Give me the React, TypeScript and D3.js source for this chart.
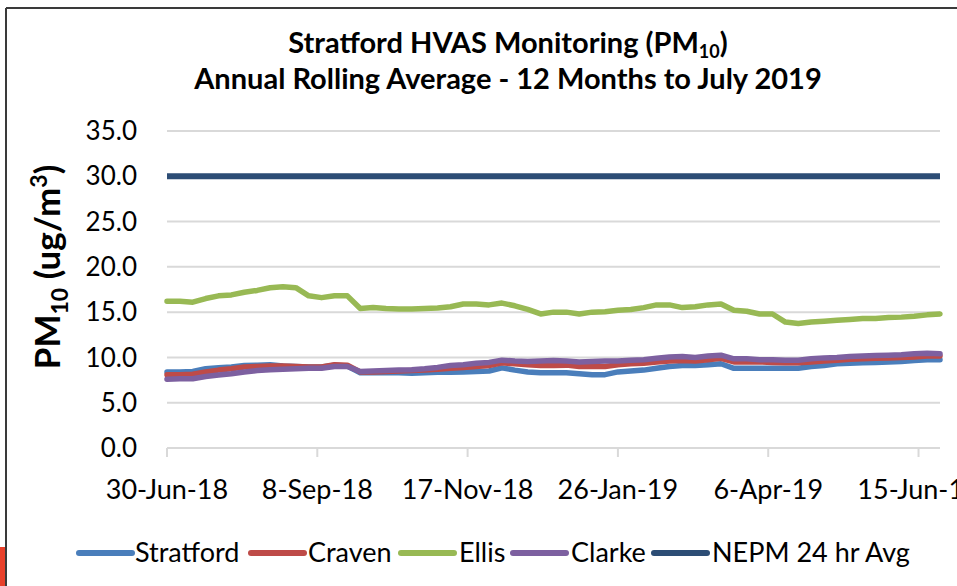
import React from "react";
import * as d3 from "d3";

const seriesNames = ["Stratford", "Craven", "Ellis", "Clarke", "NEPM 24 hr Avg"];
const seriesColors = ["#4A7EBB", "#BE4B48", "#98B954", "#7D60A0", "#2C4D75"];

const startDate = "2018-06-30";
const sampleIntervalDays = 6;

const stratford = [
  8.4, 8.4, 8.45, 8.75, 8.85, 8.95, 9.1, 9.15, 9.2, 9.05, 9.0, 8.95, 8.95, 9.15, 9.05,
  8.3, 8.3, 8.3, 8.3, 8.25, 8.3, 8.35, 8.35, 8.4, 8.45, 8.5, 8.85, 8.6, 8.4, 8.3,
  8.3, 8.3, 8.2, 8.1, 8.1, 8.4, 8.5, 8.6, 8.8, 9.0, 9.1, 9.1, 9.2, 9.3, 8.8,
  8.8, 8.8, 8.8, 8.8, 8.8, 9.0, 9.1, 9.3, 9.35, 9.4, 9.45, 9.5, 9.55, 9.65, 9.75, 9.75,
];
const craven = [
  8.1, 8.1, 8.15, 8.4, 8.6, 8.75, 8.95, 9.0, 9.05, 9.05, 9.0, 8.95, 8.95, 9.2, 9.15,
  8.4, 8.4, 8.45, 8.5, 8.55, 8.6, 8.7, 8.8, 8.9, 9.0, 9.1, 9.4, 9.3, 9.2, 9.1,
  9.1, 9.15, 9.0, 9.0, 9.0, 9.2, 9.3, 9.35, 9.5, 9.6, 9.65, 9.6, 9.75, 9.9, 9.5,
  9.5, 9.5, 9.45, 9.4, 9.4, 9.5, 9.6, 9.7, 9.8, 9.85, 9.9, 9.95, 10.0, 10.05, 10.15, 10.15,
];
const ellis = [
  16.2, 16.2, 16.1, 16.5, 16.8, 16.9, 17.2, 17.4, 17.7, 17.8, 17.7, 16.8, 16.6, 16.8, 16.8,
  15.4, 15.5, 15.4, 15.35, 15.35, 15.4, 15.45, 15.6, 15.9, 15.9, 15.8, 16.0, 15.7, 15.3, 14.8,
  15.0, 15.0, 14.8, 15.0, 15.05, 15.2, 15.3, 15.5, 15.8, 15.8, 15.5, 15.6, 15.8, 15.9, 15.2,
  15.1, 14.8, 14.8, 13.9, 13.75, 13.9, 14.0, 14.1, 14.2, 14.3, 14.3, 14.4, 14.45, 14.55, 14.7, 14.8,
];
const clarke = [
  7.6, 7.65, 7.65, 7.9, 8.05, 8.2, 8.4, 8.55, 8.65, 8.7, 8.75, 8.8, 8.8, 9.0, 9.0,
  8.45, 8.5, 8.55, 8.6, 8.65, 8.75, 8.9, 9.1, 9.2, 9.35, 9.45, 9.7, 9.6, 9.55, 9.6,
  9.65, 9.6, 9.5, 9.55, 9.6, 9.6, 9.7, 9.75, 9.9, 10.05, 10.1, 10.0, 10.15, 10.25, 9.85,
  9.85, 9.75, 9.75, 9.7, 9.7, 9.85, 9.95, 10.0, 10.1, 10.15, 10.2, 10.25, 10.3, 10.4, 10.45, 10.4,
];
const nepm = [30, 30];

const yTicks = [0, 5, 10, 15, 20, 25, 30, 35];
const xTickDates = ["2018-06-30", "2018-09-08", "2018-11-17", "2019-01-26", "2019-04-06", "2019-06-15"];
const xTickLabels = ["30-Jun-18", "8-Sep-18", "17-Nov-18", "26-Jan-19", "6-Apr-19", "15-Jun-19"];
const xDomainEnd = "2019-06-25";

const FONT = "Lato, 'Open Sans', sans-serif";

const parse = d3.timeParse("%Y-%m-%d");

export default function App() {
  const W = 957;
  const H = 586;
  const start = parse(startDate)!;
  const end = parse(xDomainEnd)!;
  const x = d3.scaleTime().domain([start, end]).range([167, 940]);
  const y = d3.scaleLinear().domain([0, 35]).range([448, 131]);

  const dateAt = (i: number) => d3.timeDay.offset(start, i * sampleIntervalDays);
  const line = d3
    .line<number>()
    .x((_, i) => x(dateAt(i)))
    .y((d) => y(d));

  const dataSeries = [stratford, craven, ellis, clarke];
  const nepmLine = d3
    .line<number>()
    .x((_, i) => x(i === 0 ? start : end))
    .y((d) => y(d));

  const legendItems = [
    { lx: 79, tx: 135 },
    { lx: 251, tx: 308 },
    { lx: 401, tx: 459 },
    { lx: 513, tx: 571 },
    { lx: 654, tx: 712 },
  ];

  return (
    <svg
      width={W}
      height={H}
      style={{ position: "absolute", left: 0, top: 0, background: "#fff" }}
      fontFamily={FONT}
    >
      <rect x={0} y={0} width={W} height={H} fill="#fff" />
      {/* chart frame */}
      <line x1={6} y1={8} x2={W} y2={8} stroke="#3a3a3a" strokeWidth={2} />
      <line x1={6} y1={8} x2={6} y2={H} stroke="#3a3a3a" strokeWidth={2} />
      <rect x={0} y={547} width={5} height={39} fill="#E8402A" />

      {/* title */}
      <text x={508} y={53} textAnchor="middle" fontWeight="bold" fontSize={29} fill="#000">
        Stratford HVAS Monitoring (PM
        <tspan fontSize={18} dy={5}>10</tspan>
        <tspan dy={-5}>)</tspan>
      </text>
      <text x={508} y={89} textAnchor="middle" fontWeight="bold" fontSize={29} fill="#000">
        Annual Rolling Average - 12 Months to July 2019
      </text>

      {/* gridlines */}
      {yTicks.filter((t) => t !== 0).map((t) => (
        <line key={"g" + t} x1={167} x2={940} y1={y(t)} y2={y(t)} stroke="#D9D9D9" strokeWidth={2} />
      ))}
      {/* x axis */}
      <line x1={167} x2={940} y1={y(0)} y2={y(0)} stroke="#D9D9D9" strokeWidth={2} />
      {xTickDates.map((d) => (
        <line key={"t" + d} x1={x(parse(d)!)} x2={x(parse(d)!)} y1={y(0)} y2={y(0) + 9} stroke="#D9D9D9" strokeWidth={2} />
      ))}

      {/* y tick labels */}
      {yTicks.map((t) => (
        <text key={"yl" + t} x={137} y={y(t)} dy="0.35em" textAnchor="end" fontSize={26} fill="#000">
          {t.toFixed(1)}
        </text>
      ))}
      {/* x tick labels */}
      {xTickDates.map((d, i) => (
        <text key={"xl" + d} x={x(parse(d)!)} y={499} textAnchor="middle" fontSize={27} fill="#000">
          {xTickLabels[i]}
        </text>
      ))}

      {/* y axis title */}
      <text
        transform="translate(60,267) rotate(-90)"
        textAnchor="middle"
        fontWeight="bold"
        fontSize={35}
        fill="#000"
      >
        PM
        <tspan fontSize={23} dy={8}>10</tspan>
        <tspan dy={-8}> (ug/m</tspan>
        <tspan fontSize={23} dy={-13}>3</tspan>
        <tspan dy={13}>)</tspan>
      </text>

      {/* series */}
      {dataSeries.map((s, k) => (
        <path
          key={"s" + k}
          d={line(s) || ""}
          fill="none"
          stroke={seriesColors[k]}
          strokeWidth={5.5}
          strokeLinejoin="round"
          strokeLinecap="round"
        />
      ))}
      <path d={nepmLine(nepm) || ""} fill="none" stroke={seriesColors[4]} strokeWidth={6} />

      {/* legend */}
      {seriesNames.map((n, i) => (
        <g key={"lg" + i}>
          <line
            x1={legendItems[i].lx}
            x2={legendItems[i].lx + 53}
            y1={553}
            y2={553}
            stroke={seriesColors[i]}
            strokeWidth={6}
            strokeLinecap="round"
          />
          <text x={legendItems[i].tx} y={553} dy="0.35em" fontSize={27} fill="#000">
            {n}
          </text>
        </g>
      ))}
    </svg>
  );
}
